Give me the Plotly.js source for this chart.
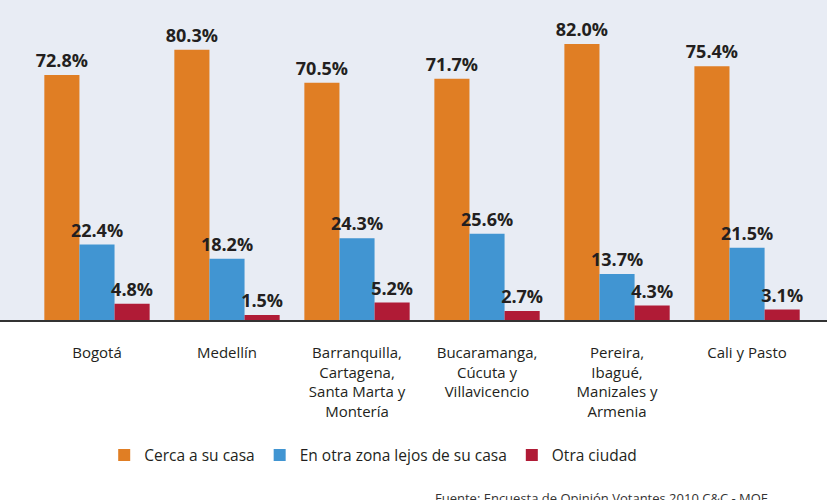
<!DOCTYPE html>
<html>
<head>
<meta charset="utf-8">
<script src="https://cdn.plot.ly/plotly-3.0.1.min.js"></script>
<style>html,body{margin:0;padding:0;background:#fff;}#chart{width:827px;height:500px;}</style>
</head>
<body>
<div id="chart"></div>
<script>
var categories = ["Bogotá", "Medellín", "Barranquilla,<br>Cartagena,<br>Santa Marta y<br>Montería", "Bucaramanga,<br>Cúcuta y<br>Villavicencio", "Pereira,<br>Ibagué,<br>Manizales y<br>Armenia", "Cali y Pasto"];
var seriesNames = ["Cerca a su casa", "En otra zona lejos de su casa", "Otra ciudad"];
var cerca = [72.8, 80.3, 70.5, 71.7, 82.0, 75.4];
var otraZona = [22.4, 18.2, 24.3, 25.6, 13.7, 21.5];
var otraCiudad = [4.8, 1.5, 5.2, 2.7, 4.3, 3.1];
var sourceText = "Fuente: Encuesta de Opinión Votantes 2010 C&C - MOE";

var colors = ["#E07E24", "#4195D2", "#B01B36"];
var seriesValues = [cerca, otraZona, otraCiudad];

var traces = seriesValues.map(function (vals, i) {
  return {
    type: "bar",
    name: seriesNames[i],
    x: categories,
    y: vals,
    marker: { color: colors[i] },
    texttemplate: "%{y:.1f}%",
    textposition: "outside",
    constraintext: "none",
    cliponaxis: false,
    textfont: { family: "Open Sans", size: 18, weight: "bold", color: "#231F20" },
    hoverinfo: "none"
  };
});

var layout = {
  width: 827,
  height: 500,
  margin: { l: 0, r: 0, t: 0, b: 180 },
  paper_bgcolor: "#ffffff",
  plot_bgcolor: "#E8ECF4",
  barmode: "group",
  bargap: 0.19,
  bargroupgap: 0,
  showlegend: true,
  font: { family: "Open Sans", color: "#231F20" },
  xaxis: {
    type: "category",
    range: [-0.746, 5.615],
    showline: true,
    linecolor: "#333333",
    linewidth: 2,
    ticks: "",
    showgrid: false,
    zeroline: false,
    ticklabelstandoff: 18,
    tickfont: { family: "Open Sans", size: 15, color: "#231F20" },
    fixedrange: true
  },
  yaxis: {
    range: [0, 95.07],
    visible: false,
    showgrid: false,
    zeroline: false,
    fixedrange: true
  },
  legend: {
    orientation: "h",
    x: 0.126,
    xanchor: "left",
    y: -0.37,
    yanchor: "top",
    bgcolor: "rgba(0,0,0,0)",
    font: { family: "Open Sans", size: 15.5, color: "#231F20" },
    traceorder: "normal"
  },
  annotations: [{
    text: sourceText,
    xref: "paper", yref: "paper",
    x: 0.523, y: -0.522,
    xanchor: "left", yanchor: "top",
    showarrow: false,
    font: { family: "Open Sans", size: 13, color: "#333333" }
  }]
};

Plotly.newPlot("chart", traces, layout, { displayModeBar: false, staticPlot: true });
</script>
</body>
</html>
